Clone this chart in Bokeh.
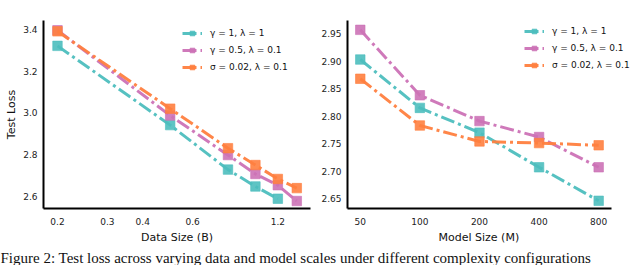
from bokeh.plotting import figure
from bokeh.layouts import column, row
from bokeh.models import FixedTicker, PrintfTickFormatter, Range1d, Label, Title
from bokeh.embed import file_html
from bokeh.resources import INLINE

# ---- data ----
data_size = [0.2, 0.5, 0.8, 1.0, 1.2, 1.4]
d_cyan = [3.322, 2.941, 2.727, 2.646, 2.587]
d_pink = [3.397, 2.987, 2.797, 2.706, 2.652, 2.576]
d_orange = [3.392, 3.020, 2.830, 2.749, 2.682, 2.638]
data_ticks = [0.2, 0.3, 0.4, 0.6, 1.2]
loss_ticks_left = [2.6, 2.8, 3.0, 3.2, 3.4]

model_size = [50, 100, 200, 400, 800]
m_cyan = [2.903, 2.815, 2.770, 2.707, 2.646]
m_pink = [2.957, 2.838, 2.791, 2.762, 2.707]
m_orange = [2.868, 2.783, 2.754, 2.751, 2.747]
loss_ticks_right = [2.65, 2.70, 2.75, 2.80, 2.85, 2.90, 2.95]

labels = ["γ = 1, λ = 1", "γ = 0.5, λ = 0.1", "σ = 0.02, λ = 0.1"]
colors = ["#4DBEBE", "#CC72B6", "#FF7F3F"]
caption = ("Figure 2: Test loss across varying data and model scales under "
           "different complexity configurations")

FONT = "DejaVu Sans"


def style(p):
    p.xgrid.visible = False
    p.ygrid.visible = False
    p.outline_line_color = None
    p.background_fill_color = "white"
    p.border_fill_color = "white"
    for ax in (p.xaxis[0], p.yaxis[0]):
        ax.axis_line_width = 2
        ax.axis_line_color = "black"
        ax.major_tick_line_color = None
        ax.minor_tick_line_color = None
        ax.major_tick_out = 0
        ax.major_tick_in = 0
        ax.minor_tick_out = 0
        ax.minor_tick_in = 0
        ax.major_label_text_font = FONT
        ax.major_label_text_font_size = "9px"
        ax.major_label_text_color = "#222222"
        ax.axis_label_text_font = FONT
        ax.axis_label_text_font_size = "11px"
        ax.axis_label_text_font_style = "normal"
        ax.axis_label_text_color = "#111111"
    p.xaxis[0].major_label_standoff = 9
    p.yaxis[0].major_label_standoff = 6


def draw(p, xs, series):
    for ys, lab, col in zip(series, labels, colors):
        x = xs[:len(ys)]
        p.line(x, ys, line_color=col, line_width=3, line_dash="14 4 3 4",
               line_alpha=0.95, legend_label=lab)
        p.scatter(x, ys, marker="square", size=9.5, fill_color=col,
                  line_color=col, fill_alpha=0.9, line_alpha=0.6,
                  legend_label=lab)


def legend_style(p, loc):
    lg = p.legend[0]
    lg.location = loc
    lg.margin = 0
    lg.padding = 0
    lg.spacing = 5
    lg.glyph_width = 20
    lg.glyph_height = 12
    lg.label_height = 12
    lg.label_standoff = 8
    lg.label_text_font = FONT
    lg.label_text_font_size = "9px"
    lg.label_text_color = "#111111"
    lg.border_line_alpha = 0
    lg.background_fill_alpha = 0


# ---- left: data size ----
p1 = figure(width=318, height=246, x_axis_type="log",
            x_range=Range1d(0.1785, 1.565), y_range=Range1d(2.540, 3.444),
            toolbar_location=None, output_backend="svg",
            min_border_left=43, min_border_right=8,
            min_border_top=20, min_border_bottom=36)
style(p1)
draw(p1, data_size, [d_cyan, d_pink, d_orange])
p1.xaxis.ticker = FixedTicker(ticks=data_ticks, minor_ticks=[])
p1.xaxis.formatter = PrintfTickFormatter(format="%.1f")
p1.yaxis.ticker = FixedTicker(ticks=loss_ticks_left, minor_ticks=[])
p1.yaxis.formatter = PrintfTickFormatter(format="%.1f")
p1.xaxis.axis_label = "Data Size (B)"
p1.yaxis.axis_label = "Test Loss"
p1.xaxis.axis_label_standoff = 3
p1.yaxis.axis_label_standoff = 2
legend_style(p1, (139, 135))

# ---- right: model size ----
# frame runs to the canvas edge so the legend is not clipped;
# the x axis line itself is bounded to the visible axis extent
p2 = figure(width=322, height=246, x_axis_type="log",
            x_range=Range1d(43.1, 1301), y_range=Range1d(2.632, 2.974),
            toolbar_location=None, output_backend="svg",
            min_border_left=25, min_border_right=0,
            min_border_top=20, min_border_bottom=36)
style(p2)
draw(p2, model_size, [m_cyan, m_pink, m_orange])
p2.xaxis.ticker = FixedTicker(ticks=model_size, minor_ticks=[])
p2.xaxis.formatter = PrintfTickFormatter(format="%d")
p2.xaxis.bounds = (43.1, 933)
p2.yaxis.ticker = FixedTicker(ticks=loss_ticks_right, minor_ticks=[])
p2.yaxis.formatter = PrintfTickFormatter(format="%.2f")
p2.yaxis.major_label_standoff = 6
legend_style(p2, (177, 137))
# axis title placed under the bounded axis (the frame is wider than the axis)
p2.add_layout(Title(text="Model Size (M)", align="left", offset=91,
                    standoff=3, text_font=FONT, text_font_size="11px",
                    text_font_style="normal", text_color="#111111"),
              "below")

# ---- caption strip ----
pc = figure(width=640, height=19, x_range=Range1d(0, 640),
            y_range=Range1d(0, 19), toolbar_location=None,
            output_backend="svg", min_border=0)
pc.axis.visible = False
pc.grid.visible = False
pc.outline_line_color = None
pc.add_layout(Label(x=0, y=8, x_units="screen", y_units="screen",
                    text=caption, text_font="Liberation Serif",
                    text_font_size="15px", text_color="#111111",
                    text_baseline="alphabetic"))

layout = column(row(p1, p2, spacing=0), pc, spacing=0)
open("out.html", "w").write(file_html(layout, INLINE))
